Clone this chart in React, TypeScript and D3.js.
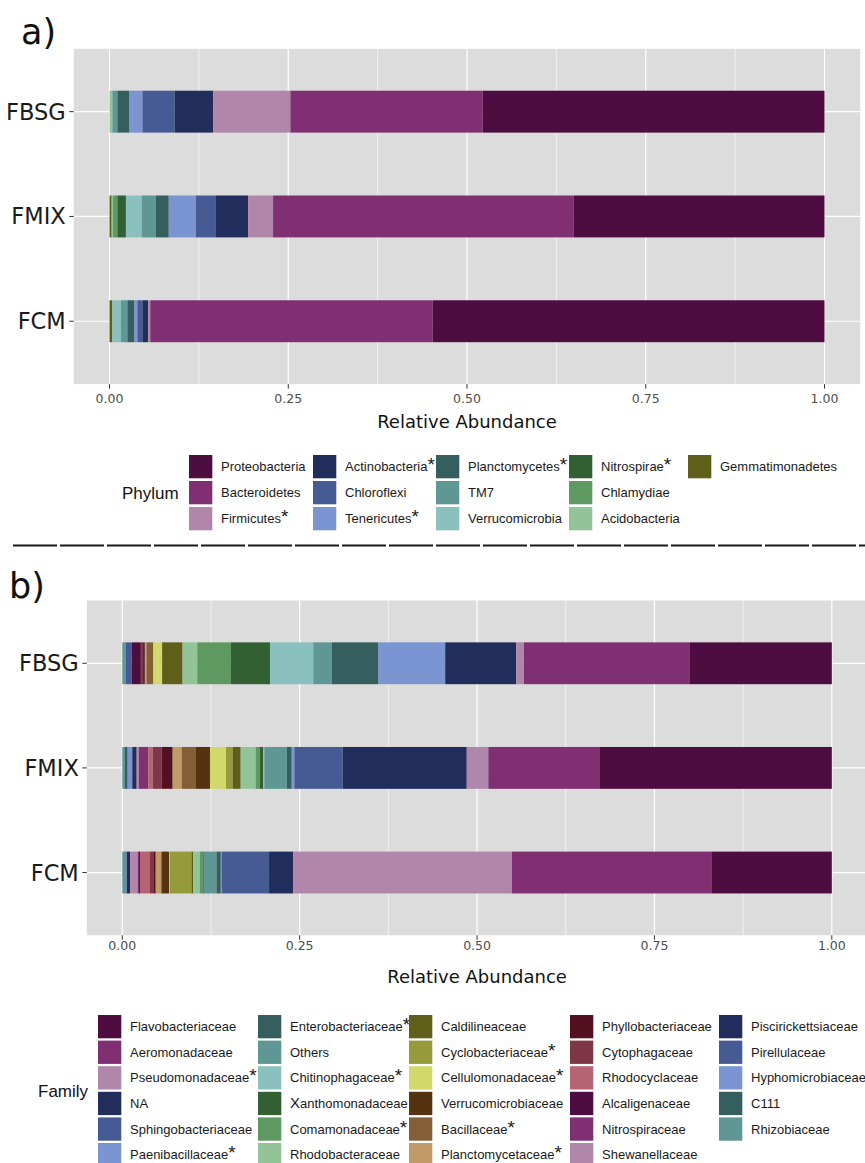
import React from "react";
import * as d3 from "d3";

// ---------- data ----------
const samples = ["FBSG", "FMIX", "FCM"];
const xTicks = [0, 0.25, 0.5, 0.75, 1];
const xMinorTicks = [0.125, 0.375, 0.625, 0.875];

const phylumLevels = [
  "Proteobacteria", "Bacteroidetes", "Firmicutes", "Actinobacteria", "Chloroflexi",
  "Tenericutes", "Planctomycetes", "TM7", "Verrucomicrobia", "Nitrospirae",
  "Chlamydiae", "Acidobacteria", "Gemmatimonadetes",
];
const phylumStarred = ["Firmicutes", "Actinobacteria", "Tenericutes", "Planctomycetes", "Nitrospirae"];
// values in the same order as phylumLevels
const phylumFBSG = [0.478, 0.269, 0.108, 0.054, 0.045, 0.018, 0.017, 0.007, 0, 0, 0, 0.004, 0];
const phylumFMIX = [0.351, 0.421, 0.035, 0.045, 0.028, 0.038, 0.018, 0.020, 0.022, 0.012, 0.006, 0.002, 0.003];
const phylumFCM = [0.548, 0.395, 0.003, 0.008, 0.007, 0.004, 0.010, 0.009, 0.012, 0, 0, 0, 0.004];

const familyLevels = [
  "Flavobacteriaceae", "Aeromonadaceae", "Pseudomonadaceae", "NA", "Sphingobacteriaceae",
  "Paenibacillaceae", "Enterobacteriaceae", "Others", "Chitinophagaceae", "Xanthomonadaceae",
  "Comamonadaceae", "Rhodobacteraceae", "Caldilineaceae", "Cyclobacteriaceae", "Cellulomonadaceae",
  "Verrucomicrobiaceae", "Bacillaceae", "Planctomycetaceae", "Phyllobacteriaceae", "Cytophagaceae",
  "Rhodocyclaceae", "Alcaligenaceae", "Nitrospiraceae", "Shewanellaceae", "Piscirickettsiaceae",
  "Pirellulaceae", "Hyphomicrobiaceae", "C111", "Rhizobiaceae",
];
const familyStarred = [
  "Pseudomonadaceae", "Paenibacillaceae", "Enterobacteriaceae", "Chitinophagaceae", "Comamonadaceae",
  "Cyclobacteriaceae", "Cellulomonadaceae", "Bacillaceae", "Planctomycetaceae",
];
// values in the same order as familyLevels
const familyFBSG = [
  0.200, 0.234, 0.011, 0.100, 0, 0.094, 0.066, 0.026, 0.061, 0.055,
  0.0475, 0.0207, 0.0288, 0, 0.0125, 0, 0.0096, 0.0023, 0.0024, 0.0032,
  0, 0.013, 0, 0, 0, 0.0084, 0, 0, 0.0048,
];
const familyFMIX = [
  0.3267, 0.1574, 0.0304, 0.1748, 0.0682, 0.0037, 0.007, 0.0316, 0.0014, 0.0047,
  0.0061, 0.0211, 0.0113, 0.0094, 0.0226, 0.0197, 0.0202, 0.0127, 0.0155, 0.0127,
  0.0062, 0, 0.0131, 0.0032, 0.0062, 0, 0.0065, 0.0038, 0.0038,
];
const familyFCM = [
  0.1689, 0.2819, 0.3082, 0.0338, 0.0666, 0.0014, 0.0061, 0.0179, 0, 0.0014,
  0.0042, 0.0094, 0.0023, 0.0306, 0.001, 0.0103, 0.001, 0.0075, 0.0034, 0.0047,
  0.0141, 0.0014, 0.0018, 0.0108, 0.0047, 0, 0.0014, 0.001, 0.0038,
];

// ---------- styles ----------
const palette = [
  "#4E0D40", "#7F2F72", "#B087AA", "#212D5B", "#465B93", "#7A95D1", "#345F5E",
  "#5E9794", "#8AC1BF", "#336033", "#5E9961", "#93C497", "#5F5F1A", "#979A3B",
  "#D3D86A", "#553311", "#835E36", "#C19A67", "#521020", "#7F3646", "#B66473",
];
const phylumColors = phylumLevels.map((_, i) => palette[i % palette.length]);
const familyColors = familyLevels.map((_, i) => palette[i % palette.length]);

const PANEL_BG = "#DCDCDC";
const SANS = "'DejaVu Sans', sans-serif";
const LEG = "'Liberation Sans', Arial, sans-serif";

type PanelProps = {
  levels: string[];
  colors: string[];
  values: number[][];
  left: number; right: number; top: number; bottom: number;
  tickLabelY: number; titleY: number;
};

function Panel({ levels, colors, values, left, right, top, bottom, tickLabelY, titleY }: PanelProps) {
  const x = d3.scaleLinear().domain([-0.05, 1.05]).range([left, right]);
  const y = d3.scalePoint<string>().domain(samples).range([top, bottom]).padding(0.6);
  const bh = y.step() * 0.4;
  const rows = samples.map((s, si) => {
    const r: any = { sample: s };
    levels.forEach((l, li) => (r[l] = values[si][li]));
    return r;
  });
  const keys = levels.slice().reverse();
  const stack = d3.stack<any>().keys(keys).offset(d3.stackOffsetExpand)(rows);
  const colorOf = d3.scaleOrdinal<string, string>().domain(levels).range(colors);
  return (
    <g>
      <rect x={left} y={top} width={right - left} height={bottom - top} fill={PANEL_BG} />
      {xMinorTicks.map((t) => (
        <line key={"mn" + t} x1={x(t)} x2={x(t)} y1={top} y2={bottom} stroke="#fff" strokeWidth={0.6} />
      ))}
      {xTicks.map((t) => (
        <line key={"mj" + t} x1={x(t)} x2={x(t)} y1={top} y2={bottom} stroke="#fff" strokeWidth={1.2} />
      ))}
      {samples.map((s) => (
        <line key={"hy" + s} x1={left} x2={right} y1={y(s)} y2={y(s)} stroke="#fff" strokeWidth={1.2} />
      ))}
      {stack.map((series) =>
        series.map((d, i) => {
          const w = x(d[1]) - x(d[0]);
          if (w <= 0) return null;
          return (
            <rect
              key={series.key + "-" + i}
              x={x(d[0])}
              width={w}
              y={(y(samples[i]) as number) - bh / 2}
              height={bh}
              fill={colorOf(series.key)}
            />
          );
        })
      )}
      {/* y axis */}
      {samples.map((s) => (
        <g key={"yl" + s}>
          <line x1={left - 4.5} x2={left} y1={y(s)} y2={y(s)} stroke="#333" strokeWidth={1} />
          <text x={left - 8} y={(y(s) as number) + 8} textAnchor="end" fontFamily={SANS} fontSize={22.5} fill="#1a1a1a">
            {s}
          </text>
        </g>
      ))}
      {/* x axis */}
      {xTicks.map((t) => (
        <g key={"xt" + t}>
          <line x1={x(t)} x2={x(t)} y1={bottom} y2={bottom + 4.5} stroke="#333" strokeWidth={1} />
          <text x={x(t)} y={tickLabelY} textAnchor="middle" fontFamily={SANS} fontSize={12.5} fill="#4d4d4d">
            {d3.format(".2f")(t)}
          </text>
        </g>
      ))}
      <text x={x(0.5)} y={titleY} textAnchor="middle" fontFamily={SANS} fontSize={18} fill="#111">
        Relative Abundance
      </text>
    </g>
  );
}

type LegendProps = {
  title: string;
  levels: string[];
  starred: string[];
  colors: string[];
  nrow: number;
  keyX: number[];
  titleX: number;
  top: number;
  pitch: number;
};

function Legend({ title, levels, starred, colors, nrow, keyX, titleX, top, pitch }: LegendProps) {
  const ks = 23.3;
  const mid = top + (pitch * (nrow - 1) + ks) / 2;
  return (
    <g>
      <text x={titleX} y={mid + 6} fontFamily={LEG} fontSize={17} fill="#111">
        {title}
      </text>
      {levels.map((l, i) => {
        const col = Math.floor(i / nrow);
        const row = i % nrow;
        const kx = keyX[col];
        const ky = top + row * pitch;
        const isX = l === "Xanthomonadaceae";
        return (
          <g key={l}>
            <rect x={kx} y={ky} width={ks} height={ks} fill={colors[i]} />
            <text x={kx + 32} y={ky + ks / 2 + 4.6} fontFamily={LEG} fontSize={13} fill="#1a1a1a">
              {isX ? (
                <>
                  <tspan fontSize={15}>X</tspan>
                  {l.slice(1)}
                </>
              ) : (
                l
              )}
              {starred.includes(l) ? <tspan fontSize={19}>*</tspan> : null}
            </text>
          </g>
        );
      })}
    </g>
  );
}

export default function App() {
  return (
    <svg
      width={865}
      height={1163}
      viewBox="0 0 865 1163"
      style={{ position: "absolute", left: 0, top: 0, background: "#fff" }}
    >
      <rect x={0} y={0} width={865} height={1163} fill="#fff" />
      <text x={21} y={44} fontFamily={SANS} fontSize={35} fill="#111">a)</text>
      <Panel
        levels={phylumLevels}
        colors={phylumColors}
        values={[phylumFBSG, phylumFMIX, phylumFCM]}
        left={73.75}
        right={860.25}
        top={48.8}
        bottom={384.1}
        tickLabelY={402.5}
        titleY={427.5}
      />
      <Legend
        title="Phylum"
        levels={phylumLevels}
        starred={phylumStarred}
        colors={phylumColors}
        nrow={3}
        keyX={[189, 313, 436, 569, 688]}
        titleX={122}
        top={455}
        pitch={26}
      />
      <line x1={13} x2={865} y1={545.5} y2={545.5} stroke="#1a1a1a" strokeWidth={2} strokeDasharray="44 3" />
      <text x={9} y={598} fontFamily={SANS} fontSize={35} fill="#111">b)</text>
      <Panel
        levels={familyLevels}
        colors={familyColors}
        values={[familyFBSG, familyFMIX, familyFCM]}
        left={86.8}
        right={867.3}
        top={600.5}
        bottom={935.3}
        tickLabelY={949.5}
        titleY={983}
      />
      <Legend
        title="Family"
        levels={familyLevels}
        starred={familyStarred}
        colors={familyColors}
        nrow={6}
        keyX={[98, 258, 409, 570, 719]}
        titleX={38}
        top={1015}
        pitch={25.6}
      />
    </svg>
  );
}
